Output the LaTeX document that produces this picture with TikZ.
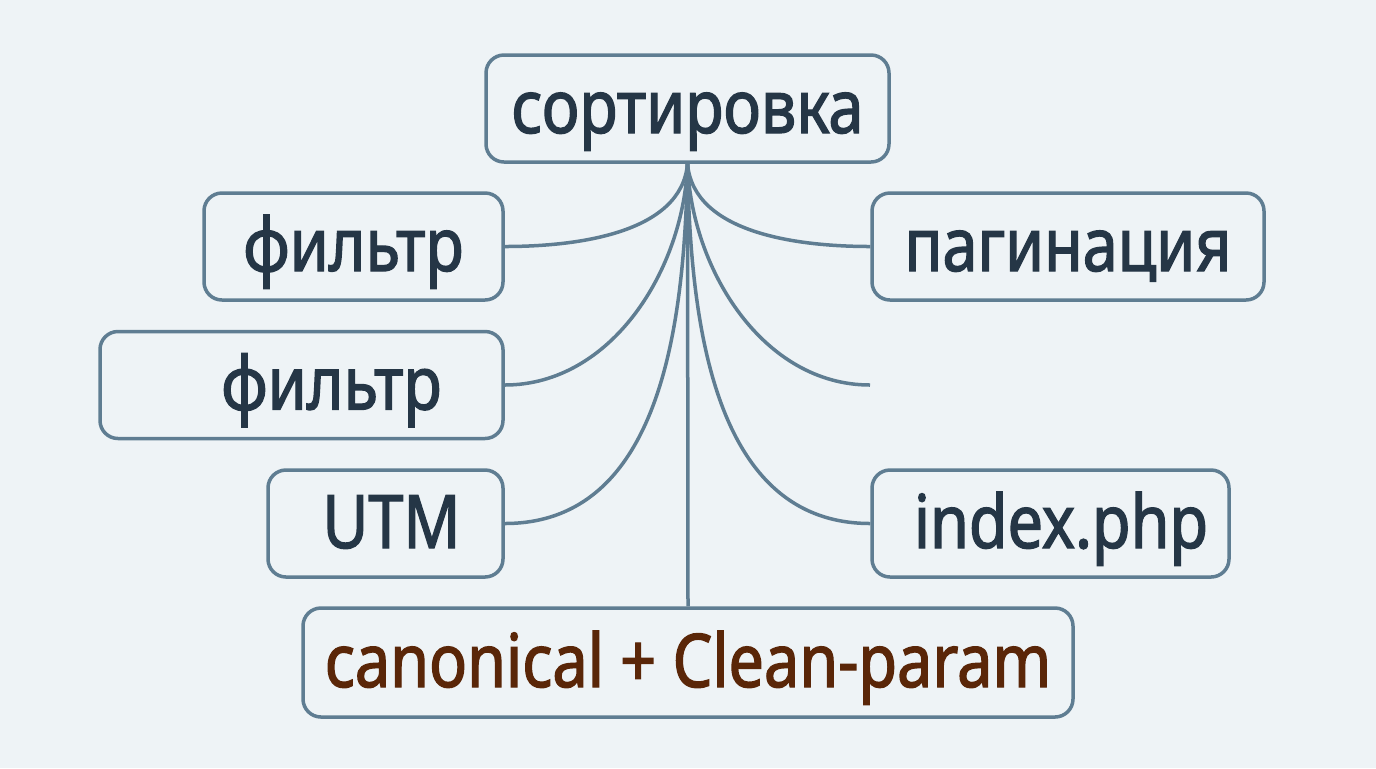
\documentclass[tikz,border=0pt]{standalone}
\usepackage{fontspec}
\setmainfont{Noto Sans}[FakeStretch=0.85, FakeBold=1.8]
\usepackage{xcolor}
\usepackage{tikz}
\definecolor{bgcol}{HTML}{EEF3F6}
\definecolor{linecol}{HTML}{5F7D92}
\definecolor{textcol}{HTML}{253646}
\definecolor{browncol}{HTML}{5A2608}

\begin{document}
\begin{tikzpicture}[
        x=0.5pt, y=-0.5pt,
        every node/.style={rectangle, rounded corners=9pt, draw=linecol, line width=1.75pt,
            text=textcol, font=\fontsize{37}{40}\selectfont, inner sep=0pt,
            text height=24.5pt, text depth=0pt, minimum height=53.5pt},
        link/.style={draw=linecol, line width=1.75pt}
    ]
    
    % background
    \fill[bgcol] (0,0) rectangle (1376,768);
    
    % Top box
    \node[minimum width=201.5pt] (sort) at (687.5,108.5) {сортировка};
    
    % Left boxes
    \node[minimum width=149.5pt] (filterA) at (353.5,246.5) {фильтр};
    \node[minimum width=201.5pt] (filterB) at (301.5,385) {\hspace*{30pt}фильтр};
    \node[minimum width=117.5pt] (utm) at (385.5,523.5) {\hspace*{6pt}UTM};
    
    % Right boxes
    \node[minimum width=196pt] (pages) at (1068,246.5) {пагинация};
    \node[minimum width=178.5pt] (index) at (1050.5,523.5) {\hspace*{10.5pt}index.php};
    \coordinate (open) at (870,385);
    
    % Bottom box
    \node[minimum width=385pt, minimum height=54.5pt, text=browncol] (canon) at (688,662.5) {canonical + Clean-param};
    
    % Curves from the top box
    \draw[link] (sort.south) to[out=-95, in=0, looseness=0.9] (filterA.east);
    \draw[link] (sort.south) to[out=-92, in=0, looseness=0.95] (filterB.east);
    \draw[link] (sort.south) to[out=-91, in=0, looseness=1] (utm.east);
    \draw[link] (sort.south) to[out=-85, in=180, looseness=0.9] (pages.west);
    \draw[link] (sort.south) to[out=-88, in=180, looseness=0.95] (open);
    \draw[link] (sort.south) to[out=-89, in=180, looseness=1] (index.west);
    \draw[link] (sort.south) -- (canon.north);
    
\end{tikzpicture}
\end{document}
